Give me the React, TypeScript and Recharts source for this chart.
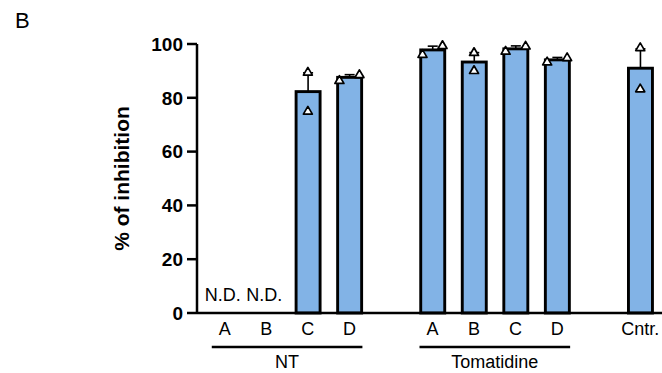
import React from 'react';
import { ComposedChart, Bar, Scatter, XAxis, YAxis, ReferenceLine } from 'recharts';

const categories = ['NT-A', 'NT-B', 'NT-C', 'NT-D', 'gap1', 'Tom-A', 'Tom-B', 'Tom-C', 'Tom-D', 'gap2', 'Cntr'];
const tickLabels = ['A', 'B', 'C', 'D', '', 'A', 'B', 'C', 'D', '', 'Cntr.'];
const means = [null, null, 82.3, 87.6, null, 97.8, 93.3, 98.2, 94.1, null, 91.0];
const errUp = [null, null, 7.0, 1.0, null, 1.4, 3.5, 1.1, 0.9, null, 7.2];
const rep1 = [null, null, 75.2, 86.6, null, 96.3, 90.3, 97.5, 93.5, null, 83.5];
const rep2 = [null, null, 89.7, 88.8, null, 99.6, 97.0, 99.4, 95.1, null, 98.8];
const ndCategories = ['NT-A', 'NT-B'];
const yTicks = [0, 20, 40, 60, 80, 100];
const groups = [
  { label: 'NT', from: 'NT-A', to: 'NT-D' },
  { label: 'Tomatidine', from: 'Tom-A', to: 'Tom-D' },
];
const groupLineValue = -12.6;

const data = categories.map((cat, i) => ({
  cat,
  label: tickLabels[i],
  mean: means[i],
  err: errUp[i],
  r1: rep1[i],
  r2: rep2[i],
}));

const FONT = '"Liberation Sans", Arial, Helvetica, sans-serif';
const BAR_SIZE = 24;
const BAR_FILL = '#82b3e6';

const XTick = (props: any) => {
  const { x, y, payload, index } = props;
  const label = tickLabels[index] ?? '';
  const isND = ndCategories.includes(payload.value);
  return (
    <g>
      <text x={x} y={y + 22} textAnchor="middle" fontSize={18} fontFamily={FONT} fill="#000">
        {label}
      </text>
      {isND && (
        <text x={x - 2} y={y - 12} textAnchor="middle" fontSize={18} fontFamily={FONT} fill="#000">
          N.D.
        </text>
      )}
    </g>
  );
};

const BarWithError = (props: any) => {
  const { x, y, width, height } = props;
  const entry = props.payload ?? props;
  const mean = entry?.mean ?? props.value;
  const err = entry?.err ?? null;
  if (mean == null || height == null || isNaN(height)) return <g />;
  const h = Math.abs(height);
  const top = Math.min(y, y + height);
  const pxPerUnit = h / mean;
  const cx = x + width / 2;
  const errTop = top - (err ?? 0) * pxPerUnit;
  return (
    <g>
      <rect x={x} y={top} width={width} height={h} fill={BAR_FILL} stroke="#000" strokeWidth={2.9} />
      {err != null && (
        <g stroke="#000" strokeWidth={1.6}>
          <line x1={cx} x2={cx} y1={top} y2={errTop} />
          <line x1={cx - 5} x2={cx + 5} y1={errTop} y2={errTop} />
        </g>
      )}
    </g>
  );
};

const makeTriangle = (key: 'r1' | 'r2') => (props: any) => {
  const { cx, cy, payload } = props;
  const v = payload?.[key];
  if (v == null || cx == null || cy == null || isNaN(cx) || isNaN(cy)) return <g />;
  const a = payload.r1;
  const b = payload.r2;
  let dx = 0;
  if (a != null && b != null && Math.abs(a - b) < 4) {
    const isLow = key === 'r1' ? a <= b : b < a;
    dx = isLow ? -10 : 10;
  }
  const px = cx + dx;
  const pts = `${px},${cy - 4.3} ${px - 4.5},${cy + 3.4} ${px + 4.5},${cy + 3.4}`;
  return <polygon points={pts} fill="#fff" stroke="#000" strokeWidth={1.7} strokeLinejoin="round" />;
};

const groupShape = (label: string) => (props: any) => {
  const { x1, x2, y1 } = props;
  const ext = BAR_SIZE / 2 + 1;
  return (
    <g>
      <line x1={x1 - ext} x2={x2 + ext} y1={y1} y2={y1} stroke="#000" strokeWidth={2.5} />
      <text x={(x1 + x2) / 2} y={y1 + 21} textAnchor="middle" fontSize={18} fontFamily={FONT} fill="#000">
        {label}
      </text>
    </g>
  );
};

export default function App() {
  return (
    <div style={{ position: 'absolute', left: 0, top: 0, width: 662, height: 373, background: '#fff', fontFamily: FONT }}>
      <div style={{ position: 'absolute', left: 15, top: 10, fontSize: 22, lineHeight: 1, color: '#000', fontFamily: FONT }}>
        B
      </div>
      <ComposedChart width={662} height={373} data={data} margin={{ top: 44, right: 0, bottom: 0, left: 0 }}>
        <XAxis
          dataKey="cat"
          type="category"
          interval={0}
          height={60}
          tickLine={false}
          tickSize={0}
          tickMargin={0}
          padding={{ left: 7, right: 1 }}
          axisLine={{ stroke: '#000', strokeWidth: 2.5 }}
          tick={<XTick />}
        />
        <YAxis
          type="number"
          domain={[0, 100]}
          ticks={yTicks}
          width={197}
          tickSize={10}
          tickMargin={4}
          axisLine={{ stroke: '#000', strokeWidth: 2.5 }}
          tickLine={{ stroke: '#000', strokeWidth: 2.5 }}
          tick={{ fontSize: 19, fontWeight: 'bold', fill: '#000', fontFamily: FONT }}
          label={{
            value: '% of inhibition',
            angle: -90,
            position: 'insideLeft',
            offset: 122,
            style: { textAnchor: 'middle', fontSize: 21, fontWeight: 'bold', fill: '#000', fontFamily: FONT },
          }}
        />
        <Bar dataKey="mean" barSize={BAR_SIZE} shape={(p: any) => <BarWithError {...p} />} isAnimationActive={false} />
        <Scatter dataKey="r1" shape={makeTriangle('r1')} isAnimationActive={false} />
        <Scatter dataKey="r2" shape={makeTriangle('r2')} isAnimationActive={false} />
        {groups.map((g) => (
          <ReferenceLine
            key={g.label}
            segment={[
              { x: g.from, y: groupLineValue },
              { x: g.to, y: groupLineValue },
            ]}
            ifOverflow="visible"
            shape={groupShape(g.label)}
          />
        ))}
      </ComposedChart>
    </div>
  );
}
